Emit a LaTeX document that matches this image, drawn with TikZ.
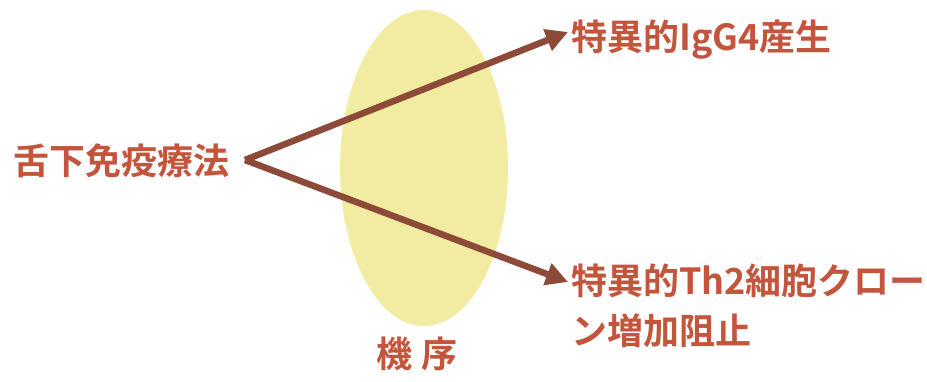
\documentclass[tikz,border=0pt]{standalone}
\usepackage{fontspec}
\newfontfamily\cjk{Noto Sans CJK JP Bold}
\usetikzlibrary{arrows.meta,shapes.geometric}
\definecolor{txt}{HTML}{C4553D}
\definecolor{arr}{HTML}{8E4A38}
\definecolor{ell}{HTML}{F2ECA2}
\tikzset{
  lbl/.style={text=txt, font=\cjk\fontsize{36}{50}\selectfont, inner sep=0pt, align=left},
  conn/.style={draw=arr, line width=6.5pt, -{Triangle[length=22pt,width=22pt]}}
}
\begin{document}
\begin{tikzpicture}[x=1pt,y=-1pt]
\useasboundingbox (0,0) rectangle (927,382);
\node[fill=ell, ellipse, minimum width=168, minimum height=316, inner sep=0pt] (ov) at (424,168) {};
\node[lbl, anchor=west] (src) at (13,161) {舌下免疫療法};
\node[lbl, anchor=west] (t1) at (571,40) {特異的IgG4産生};
\node[lbl, anchor=north west] (t2) at (571,264) {特異的Th2細胞クロー\\ン増加阻止};
\node[lbl] (mech) at (417,354) {機\hspace{10pt}序};
\coordinate (o) at (245,160);
\coordinate (e1) at (568,32);
\coordinate (e2) at (568,282);
\draw[conn] (o) -- (e1);
\draw[conn] (o) -- (e2);
\end{tikzpicture}
\end{document}
